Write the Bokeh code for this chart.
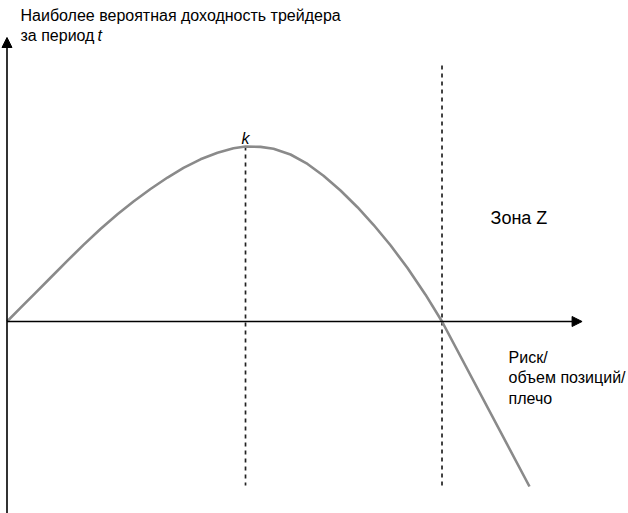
from bokeh.plotting import figure
from bokeh.models import Range1d, Arrow, NormalHead, Label
from bokeh.embed import file_html
from bokeh.resources import INLINE

# Curve: most probable return of the trader vs risk
risk = [0.0, 0.310, 0.655, 1.000, 1.391, 1.759, 2.149, 2.540, 2.908, 3.299,
        3.690, 4.057, 4.448, 4.839, 5.207, 5.483,
        5.828, 6.126, 6.517, 6.908, 7.276, 7.667, 8.057, 8.425, 8.816,
        9.207, 9.621, 10.0, 12.011]
ret = [0.0, 0.775, 1.638, 2.500, 3.478, 4.380, 5.289, 6.130, 6.859, 7.571,
       8.228, 8.779, 9.268, 9.639, 9.897, 10.0,
       9.979, 9.875, 9.543, 9.003, 8.333, 7.485, 6.529, 5.528, 4.355,
       3.057, 1.533, 0.0, -9.429]

k_risk = 5.483      # optimum point k
z_risk = 10.0       # start of zone Z
peak_ret = 10.0

FONT = "Liberation Sans"

p = figure(width=628, height=513, output_backend="svg", toolbar_location=None,
           x_range=Range1d(-0.1494, 14.287), y_range=Range1d(-10.971, 18.343),
           min_border=0, outline_line_color=None)
p.axis.visible = False
p.grid.visible = False
p.background_fill_color = "white"
p.border_fill_color = "white"

# axes with arrow heads
p.add_layout(Arrow(x_start=0, y_start=0, x_end=13.22, y_end=0, line_color="black", line_width=1.6,
                   end=NormalHead(size=10, fill_color="black", line_color="black")))
p.add_layout(Arrow(x_start=0, y_start=-12, x_end=0, y_end=16.229, line_color="black", line_width=1.6,
                   end=NormalHead(size=10, fill_color="black", line_color="black")))

# dashed verticals
p.segment(x0=[k_risk, z_risk], y0=[peak_ret, 14.629], x1=[k_risk, z_risk], y1=[-9.371, -9.371],
          line_color="#222222", line_width=1.7, line_dash="4 4")

# curve
p.line(risk, ret, line_color="#8a8a8a", line_width=2.6, line_join="round")

def lab(x, y, text, size, style="normal", align="left"):
    p.add_layout(Label(x=x, y=y, text=text, text_font=FONT, text_font_size=f"{size}px",
                       text_font_style=style, text_color="black", text_align=align,
                       text_baseline="alphabetic"))

lab(0.31, 17.486, "Наиболее вероятная доходность трейдера", 16)
lab(0.31, 16.343, "за период", 16)
lab(2.08, 16.343, "t", 16, "italic")
lab(k_risk, 10.457, "k", 16, "italic", "center")
lab(11.115, 5.943, "Зона Z", 18)
lab(11.529, -2.057, "Риск/", 16)
lab(11.529, -3.2, "объем позиций/", 16)
lab(11.529, -4.4, "плечо", 16)

open("out.html", "w").write(file_html(p, INLINE))
